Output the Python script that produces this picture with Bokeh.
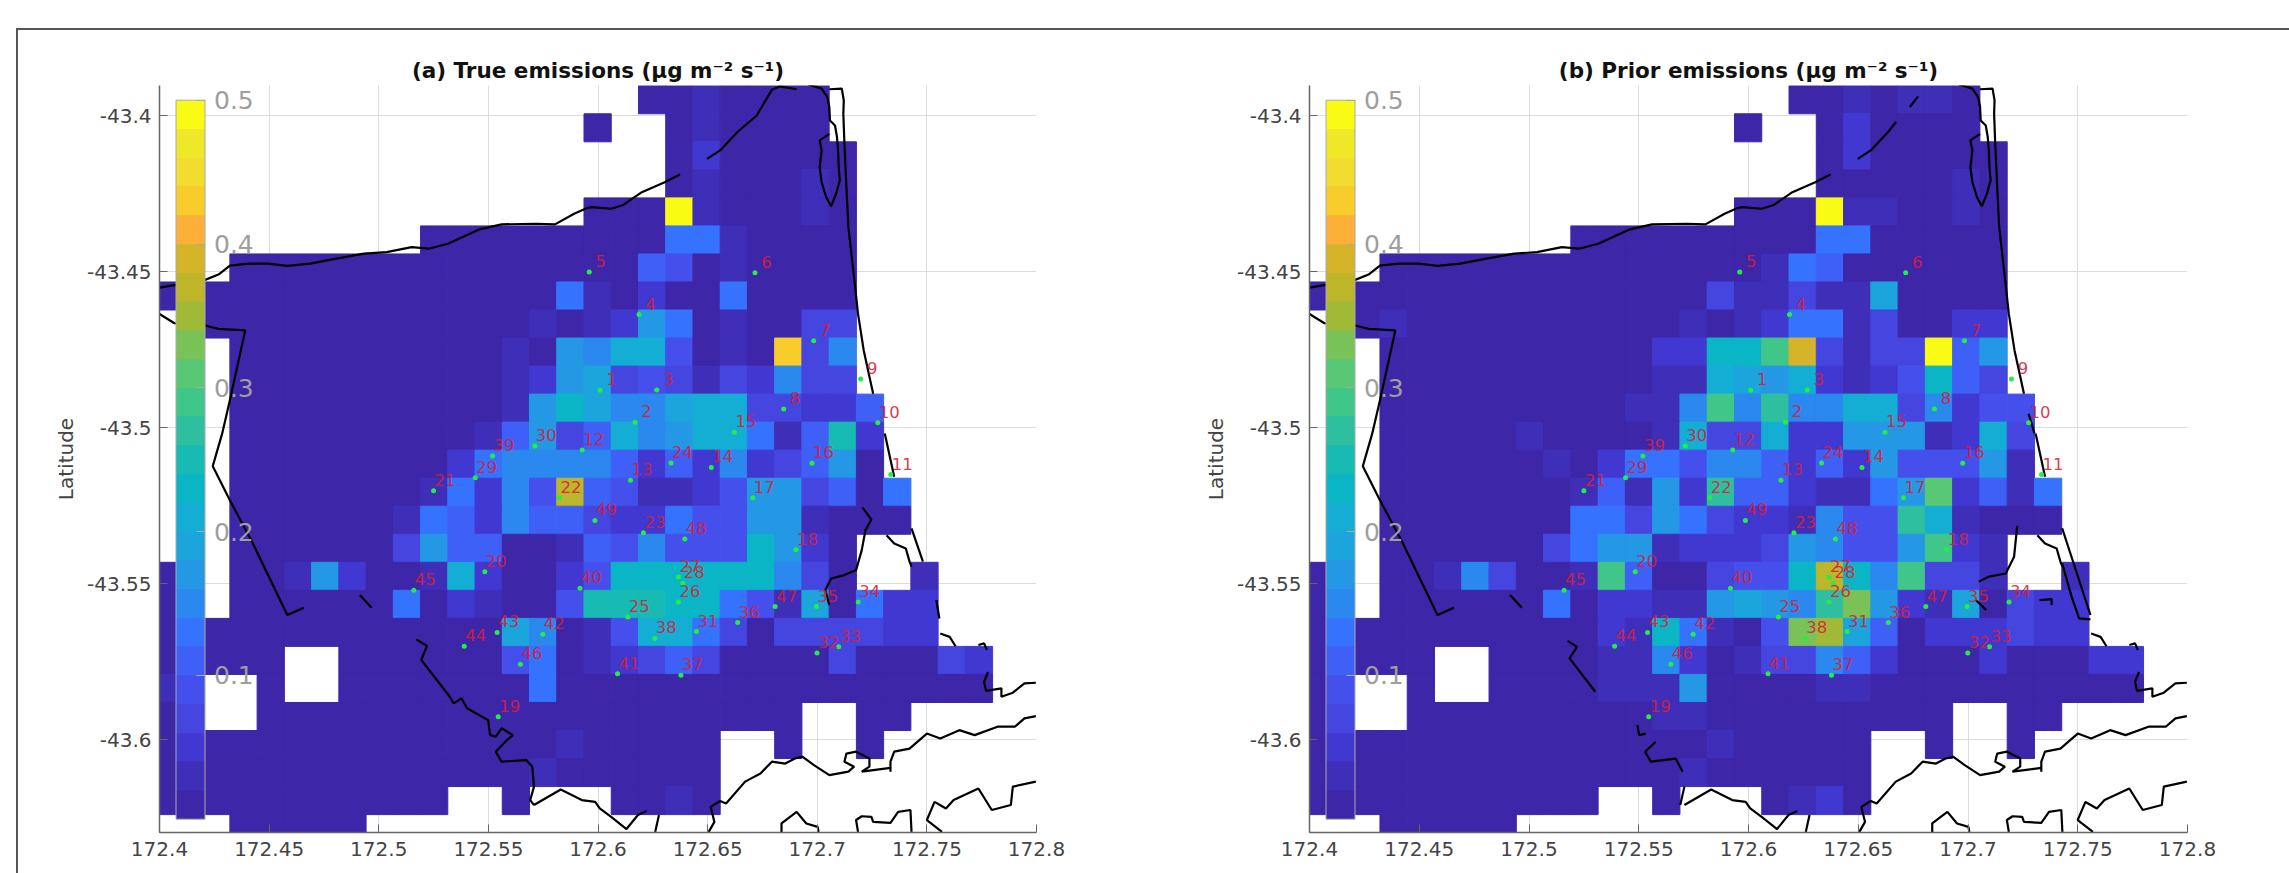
from bokeh.embed import file_html
from bokeh.resources import INLINE
from bokeh.plotting import figure
from bokeh.layouts import row
from bokeh.models import (ColumnDataSource, LinearColorMapper, ColorBar, FixedTicker, Label, Div)
from bokeh.transform import transform
from bokeh.core.properties import value

# ---- colour levels (0.02 wide steps, 0 to 0.5) -------------------------------------------
palette = ["#3E26A8", "#3F2EB8", "#4038D0", "#4545E0", "#4550EC", "#3F60F6", "#3573FF", "#2A88EE",
           "#2498E4", "#1CA4DC", "#14AED4", "#0AB6C6", "#18BAB4", "#2EBFA0", "#40C688", "#58C874",
           "#78C258", "#A0BA38", "#BDB52A", "#D6B42A", "#FCB038", "#F8CC2A", "#F2DC30", "#EEE828",
           "#F9FB15"]
N = None
a, b, c, d, e, f, g, G = .01, .03, .05, .07, .09, .11, .13, .15
h, i, j, k, l, m, n, o = .17, .19, .21, .23, .25, .27, .29, .31
q, r, s, t, v, y = .33, .35, .37, .39, .43, .49

# ---- (a) true emissions, one list per row of cells, north to south ------------------------
true_r00 = [N]*18 + [a, a, b, a, a, a, a] + [N]*6
true_r01 = [N]*16 + [a, N, N, a, b, a, a, a, a] + [N]*6
true_r02 = [N]*19 + [a, c] + [a]*5 + [N]*5
true_r03 = [N]*19 + [a, b, a, a, a, b, a] + [N]*5
true_r04 = [N]*16 + [a, a, a, y, b, a, a, a, b, a] + [N]*5
true_r05 = [N]*10 + [a]*9 + [g, g, b] + [a]*4 + [N]*5
true_r06 = [N]*3 + [a]*15 + [f, e, a, b] + [a]*4 + [N]*5
true_r07 = [a]*15 + [g, b, a, c, a, a, g] + [a]*4 + [N]*5
true_r08 = [N]*2 + [a]*12 + [b, a, b, c, h, g, a, b, a, a, d, d] + [N]*5
true_r09 = [N]*3 + [a]*10 + [b, a, h, G, j, j, e, a, b, a, v, d, G] + [N]*5
true_r10 = [N]*3 + [a]*10 + [b, c, h, i, d, e, d, b, d, c, G, d, d] + [N]*5
true_r11 = [N]*3 + [a]*10 + [b, h, k, i, G, G, i, j, j, d, d, c, c, f] + [N]*4
true_r12 = [N]*3 + [a]*9 + [b, f, h, d, f, j, G, h, j, j, g, b, f, l, c] + [N]*4
true_r13 = [N]*3 + [a]*8 + [c, g, G, G, G, G, f, c, f, c, G, c, d, f, h, a] + [N]*4
true_r14 = [N]*3 + [a]*7 + [b, g, c, G, e, s, f, e, b, b, c, e, h, h, d, f, a, g] + [N]*3
true_r15 = [N]*3 + [a]*6 + [b, g, f, c, G, f, f, d, c, c, g, e, e, h, h, b, a, a, a] + [N]*3
true_r16 = [N]*3 + [a]*6 + [d, h, f, f, a, a, b, f, e, G, e, e, e, k, h, c, a] + [N]*5
true_r17 = [a, a, N, a, a, b, h, c, a, a, b, j, c, a, a, c, e, k, k, k, k, k, k, G, d, a, N, N, b, N, N]
true_r18 = [a, a, N] + [a]*6 + [g, a, c, b, a, a, e, l, l, l, k, k, g, e, b, i, a, g, c, c, N, N]
true_r19 = [a]*13 + [i, G, a, b, e, j, j, g, d, a, d, d, d, d, c, c, N, N]
true_r20 = [a]*5 + [N, N] + [a]*6 + [e, g, a, b, c, d, f, d] + [a]*4 + [d, a, a, a, d, c]
true_r21 = [b, a, N, N, a, N, N] + [a]*7 + [g] + [a]*16
true_r22 = [a, a, N, N] + [a]*20 + [N, N, a, a, N, N, N]
true_r23 = [a]*15 + [b] + [a]*5 + [N, N, a, N, N, a] + [N]*4
true_r24 = [a]*14 + [b] + [a]*6 + [N]*10
true_r25 = [a]*11 + [N, N, a, N, N, N, a, a, b, a] + [N]*10
true_r26 = [N]*3 + [a]*5 + [N]*23

# ---- (b) prior emissions ------------------------------------------------------------------
prior_r00 = [N]*18 + [a, a, b, a, b, b, a] + [N]*6
prior_r01 = [N]*16 + [a, N, N, a, c, a, a, a, a] + [N]*6
prior_r02 = [N]*19 + [a, c] + [a]*5 + [N]*5
prior_r03 = [N]*19 + [a, a, a, a, a, b, a] + [N]*5
prior_r04 = [N]*16 + [a, a, a, y, b, b, a, a, b, a] + [N]*5
prior_r05 = [N]*10 + [a]*9 + [g, g] + [a]*5 + [N]*5
prior_r06 = [N]*3 + [a]*14 + [b, g, f] + [a]*6 + [N]*5
prior_r07 = [a]*15 + [d, b, b, d, b, b, i] + [a]*4 + [N]*5
prior_r08 = [N, N, a, b] + [a]*10 + [b, a, b, c, g, g, b, d, a, a, c, c] + [N]*5
prior_r09 = [N]*3 + [a]*10 + [c, c, k, k, n, t, d, b, d, d, y, f, h] + [N]*5
prior_r10 = [N]*3 + [a]*10 + [b, b, j, i, h, j, c, b, c, e, k, f, d] + [N]*5
prior_r11 = [N]*3 + [a]*9 + [b, b, G, n, G, m, G, G, j, j, d, G, c, e, e] + [N]*4
prior_r12 = [N]*3 + [a]*5 + [b] + [a]*4 + [b, j, d, d, j, c, c, h, h, h, b, c, j, d] + [N]*4
prior_r13 = [N]*3 + [a]*6 + [b, a, c, g, g, e, G, G, f, c, f, c, h, e, e, e, h, b] + [N]*4
prior_r14 = [N]*3 + [a]*7 + [b, f, b, h, c, m, f, f, c, b, b, g, h, o, c, f, b, g] + [N]*3
prior_r15 = [N]*3 + [a]*7 + [g, g, d, h, g, d, c, c, b, G, e, e, m, j, b, a, a, a] + [N]*3
prior_r16 = [N]*3 + [a]*6 + [d, g, h, h, b, c, c, c, d, h, G, e, e, h, n, c, b] + [N]*5
prior_r17 = [a, a, N, a, a, b, G, d, a, a, b, n, f, a, a, d, e, e, k, s, k, G, n, d, d, b, N, N, b, N, N]
prior_r18 = [a, a, N] + [a]*6 + [g, a, c, c, b, b, h, i, h, G, m, q, h, c, b, i, a, d, c, c, N, N]
prior_r19 = [a]*11 + [c, b, k, g, b, a, e, q, r, i, f, a, c, c, c, d, c, c, N, N]
prior_r20 = [a]*5 + [N, N] + [a]*4 + [b, b, G, c, a, b, d, d, G, f, c] + [a]*3 + [c, a, a, a, c, c]
prior_r21 = [a, a, N, N, a, N, N] + [a]*4 + [b, b, b, h] + [a]*4 + [b, b] + [a]*10
prior_r22 = [a, a, N, N] + [a]*9 + [b, b] + [a]*9 + [N, N, a, a, N, N, N]
prior_r23 = [a]*15 + [b] + [a]*5 + [N, N, a, N, N, a] + [N]*4
prior_r24 = [a]*14 + [b] + [a]*6 + [N]*10
prior_r25 = [a]*11 + [N, N, a, N, N, N, a, b, c, a] + [N]*10
prior_r26 = [N]*3 + [a]*5 + [N]*23

true_rows = [true_r00, true_r01, true_r02, true_r03, true_r04, true_r05, true_r06, true_r07, true_r08,
             true_r09, true_r10, true_r11, true_r12, true_r13, true_r14, true_r15, true_r16, true_r17,
             true_r18, true_r19, true_r20, true_r21, true_r22, true_r23, true_r24, true_r25, true_r26]
prior_rows = [prior_r00, prior_r01, prior_r02, prior_r03, prior_r04, prior_r05, prior_r06, prior_r07,
              prior_r08, prior_r09, prior_r10, prior_r11, prior_r12, prior_r13, prior_r14, prior_r15,
              prior_r16, prior_r17, prior_r18, prior_r19, prior_r20, prior_r21, prior_r22, prior_r23,
              prior_r24, prior_r25, prior_r26]

# cell grid (degrees)
grid_lon0, grid_dlon = 172.39483, 0.012424
grid_lat0, grid_dlat = -43.39038, 0.008984

# ---- stations -----------------------------------------------------------------------------
station_id = [str(num) for num in range(1, 50)]
station_lon = [172.6010, 172.6169, 172.6268, 172.6187, 172.5960, 172.6716, 172.6984, 172.6847, 172.7198, 172.7276,
               172.7335, 172.5928, 172.6148, 172.6517, 172.6622, 172.6976, 172.6706, 172.6903, 172.5545, 172.5484,
               172.5250, 172.5824, 172.6207, 172.6333, 172.6136, 172.6367, 172.6367, 172.6387, 172.5440, 172.5712,
               172.6449, 172.6999, 172.7098, 172.7187, 172.6996, 172.6637, 172.6378, 172.6259, 172.5519, 172.5918,
               172.6089, 172.5748, 172.5540, 172.5390, 172.5160, 172.5646, 172.6808, 172.6396, 172.5986]
station_lat = [-43.4880, -43.4982, -43.4879, -43.4637, -43.4501, -43.4503, -43.4721, -43.4940, -43.4844, -43.4984,
               -43.5150, -43.5071, -43.5168, -43.5127, -43.5014, -43.5114, -43.5224, -43.5391, -43.5926, -43.5461,
               -43.5202, -43.5224, -43.5336, -43.5113, -43.5606, -43.5558, -43.5478, -43.5498, -43.5160, -43.5058,
               -43.5653, -43.5722, -43.5702, -43.5558, -43.5573, -43.5624, -43.5793, -43.5675, -43.5090, -43.5514,
               -43.5788, -43.5662, -43.5656, -43.5700, -43.5521, -43.5758, -43.5573, -43.5356, -43.5297]

# ---- coastline pieces, (lon, lat) ---------------------------------------------------------
coast_north = ([172.4000, 172.4208, 172.4269, 172.4321, 172.4408, 172.4496, 172.4583, 172.4687, 172.4757, 172.4932,
                172.5036, 172.5150, 172.5228, 172.5316, 172.5455, 172.5560, 172.5717, 172.5804, 172.5891, 172.5953,
                172.5973, 172.6060, 172.6112, 172.6200, 172.6304, 172.6374],
               [-43.4551, -43.4526, -43.4509, -43.4480, -43.4474, -43.4474, -43.4481, -43.4474, -43.4464, -43.4442,
                -43.4437, -43.4421, -43.4426, -43.4410, -43.4365, -43.4348, -43.4346, -43.4348, -43.4314, -43.4295,
                -43.4293, -43.4298, -43.4287, -43.4245, -43.4213, -43.4188])
coast_lagoon = ([172.6959, 172.7020, 172.7046, 172.7055, 172.7058, 172.7081, 172.7090, 172.7095, 172.7098, 172.7103,
                 172.7086, 172.7063, 172.7041, 172.7020, 172.7011, 172.7020, 172.7011, 172.7055],
                [-43.3900, -43.3913, -43.3940, -43.3972, -43.4015, -43.4031, -43.4068, -43.4111, -43.4165, -43.4207,
                 -43.4250, -43.4290, -43.4261, -43.4213, -43.4165, -43.4111, -43.4079, -43.4058])
coast_east = ([172.7055, 172.7112, 172.7121, 172.7119, 172.7124, 172.7133, 172.7142, 172.7168, 172.7186, 172.7212, 172.7255],
              [-43.3915, -43.3913, -43.3951, -43.3994, -43.4090, -43.4229, -43.4357, -43.4517, -43.4635, -43.4752, -43.4891])
coast_east2 = ([172.7308, 172.7351], [-43.5018, -43.5157])
coast_est_n = ([172.7316, 172.7351, 172.7404, 172.7421, 172.7430], [-43.5344, -43.5371, -43.5387, -43.5429, -43.5445])
coast_tail = ([172.7561, 172.7604, 172.7631], [-43.5659, -43.5670, -43.5700])
coast_tail2 = ([172.7735, 172.7761, 172.7774], [-43.5696, -43.5691, -43.5712])
coast_tail3 = ([172.7779, 172.7761, 172.7770, 172.7840, 172.7840, 172.7892, 172.7945, 172.7997],
               [-43.5782, -43.5814, -43.5843, -43.5835, -43.5862, -43.5849, -43.5819, -43.5817])
border_west = ([172.4000, 172.4068, 172.4208, 172.4269, 172.4391, 172.4321, 172.4286, 172.4243, 172.4321, 172.4426, 172.4583, 172.4658],
               [-43.4635, -43.4665, -43.4672, -43.4683, -43.4688, -43.4912, -43.5018, -43.5123, -43.5232, -43.5371, -43.5600, -43.5577])
border_dash = ([172.4914, 172.4967], [-43.5536, -43.5577])
river_k = ([172.5708, 172.5830, 172.5926, 172.5987, 172.6008, 172.6060, 172.6130, 172.6182, 172.6222],
           [-43.6209, -43.6159, -43.6193, -43.6199, -43.6220, -43.6247, -43.6286, -43.6241, -43.6228])
river_l = ([172.6278, 172.6261], [-43.6241, -43.6295])
river_m = ([172.6505, 172.6531, 172.6514, 172.6557, 172.6584, 172.6671, 172.6741, 172.6793, 172.6854, 172.6898, 172.6932,
            172.6985, 172.7055, 172.7142, 172.7168, 172.7124, 172.7133, 172.7177, 172.7238, 172.7238, 172.7203, 172.7334],
           [-43.6295, -43.6263, -43.6215, -43.6196, -43.6204, -43.6134, -43.6108, -43.6070, -43.6076, -43.6060, -43.6054,
            -43.6081, -43.6113, -43.6102, -43.6086, -43.6070, -43.6044, -43.6038, -43.6060, -43.6086, -43.6102, -43.6090])
river_n = ([172.7334, 172.7334, 172.7351, 172.7421, 172.7500, 172.7561, 172.7648, 172.7718, 172.7822, 172.7901, 172.7945, 172.7997],
           [-43.6102, -43.6070, -43.6038, -43.6028, -43.5980, -43.5996, -43.5969, -43.5985, -43.5958, -43.5958, -43.5931, -43.5924])
river_o = ([172.6837, 172.6837, 172.6906, 172.6950, 172.7002, 172.7006], [-43.6295, -43.6268, -43.6231, -43.6268, -43.6279, -43.6295])
river_p = ([172.7186, 172.7177, 172.7203, 172.7247, 172.7255, 172.7334, 172.7369, 172.7425, 172.7430],
           [-43.6295, -43.6257, -43.6245, -43.6247, -43.6263, -43.6266, -43.6231, -43.6225, -43.6295])
river_q = ([172.7569, 172.7500, 172.7535, 172.7587, 172.7622, 172.7735, 172.7796, 172.7883, 172.7892, 172.7997],
           [-43.6295, -43.6257, -43.6199, -43.6220, -43.6193, -43.6156, -43.6225, -43.6209, -43.6150, -43.6134])

# pieces that are only whole in panel (a)
a_inlet = ([172.6498, 172.6557, 172.6636, 172.6723, 172.6793, 172.6828, 172.6906],
           [-43.4138, -43.4111, -43.4052, -43.4000, -43.3917, -43.3906, -43.3915])
a_spit = ([172.7430, 172.7482], [-43.5322, -43.5429])
a_spit2 = ([172.7543, 172.7557], [-43.5552, -43.5611])
a_estuary = ([172.7206, 172.7247, 172.7220, 172.7203, 172.7177, 172.7124, 172.7063, 172.7037, 172.7055],
             [-43.5255, -43.5294, -43.5328, -43.5392, -43.5456, -43.5472, -43.5483, -43.5520, -43.5568])
a_river = ([172.5171, 172.5220, 172.5194, 172.5324, 172.5342, 172.5377, 172.5403, 172.5499, 172.5508, 172.5534, 172.5560,
            172.5612, 172.5577, 172.5534, 172.5560, 172.5673, 172.5700, 172.5708, 172.5691, 172.5708],
           [-43.5678, -43.5699, -43.5744, -43.5862, -43.5883, -43.5867, -43.5899, -43.5937, -43.5985, -43.5990, -43.5963,
            -43.5985, -43.6006, -43.6038, -43.6070, -43.6065, -43.6086, -43.6150, -43.6193, -43.6209])

# pieces of the same lines as panel (b) shows them
b_inlet1 = ([172.6498, 172.6557, 172.6636, 172.6672], [-43.4138, -43.4111, -43.4052, -43.4020])
b_inlet2 = ([172.6735, 172.6773], [-43.3972, -43.3938])
b_spit = ([172.7429, 172.7558], [-43.5322, -43.5600])
b_lagoon = ([172.7429, 172.7472, 172.7506, 172.7558], [-43.5435, -43.5541, -43.5611, -43.5614])
b_estuary1 = ([172.7224, 172.7210, 172.7172, 172.7095, 172.7049], [-43.5315, -43.5413, -43.5467, -43.5477, -43.5493])
b_estuary2 = ([172.7035, 172.7083], [-43.5552, -43.5584])
b_hook = ([172.7326, 172.7381, 172.7381], [-43.5552, -43.5549, -43.5568])
b_ten = ([172.7276, 172.7303], [-43.4955, -43.5018])
b_river1 = ([172.5176, 172.5218, 172.5185, 172.5302], [-43.5683, -43.5702, -43.5739, -43.5846])
b_river2 = ([172.5494, 172.5502, 172.5532], [-43.5953, -43.5985, -43.5980])
b_river3 = ([172.5577, 172.5529, 172.5555, 172.5668, 172.5700], [-43.6006, -43.6038, -43.6070, -43.6060, -43.6102])
b_river4 = ([172.5708, 172.5689], [-43.6150, -43.6209])

common_lines = [coast_north, coast_lagoon, coast_east, coast_east2, coast_est_n, coast_tail, coast_tail2, coast_tail3,
                border_west, border_dash, river_k, river_l, river_m, river_n, river_o, river_p, river_q]
panel_a_lines = common_lines + [a_inlet, a_spit, a_spit2, a_estuary, a_river]
panel_b_lines = common_lines + [b_inlet1, b_inlet2, b_spit, b_lagoon, b_estuary1, b_estuary2, b_hook, b_ten,
                                b_river1, b_river2, b_river3, b_river4]

# ---- axes ---------------------------------------------------------------------------------
x_ticks = [172.4, 172.45, 172.5, 172.55, 172.6, 172.65, 172.7, 172.75, 172.8]
x_tick_labels = ["172.4", "172.45", "172.5", "172.55", "172.6", "172.65", "172.7", "172.75", "172.8"]
y_ticks = [-43.4, -43.45, -43.5, -43.55, -43.6]
y_tick_labels = ["-43.4", "-43.45", "-43.5", "-43.55", "-43.6"]
cbar_ticks = [0.1, 0.2, 0.3, 0.4, 0.5]
title_a = "(a) True emissions (\u03bcg m\u207b\u00b2 s\u207b\u00b9)"
title_b = "(b) Prior emissions (\u03bcg m\u207b\u00b2 s\u207b\u00b9)"

FONT = "DejaVu Sans"
mapper = LinearColorMapper(palette=palette, low=0, high=0.5)


def panel(rows, lines, title, width, left, right):
    fig = figure(width=width, height=873, output_backend="svg", toolbar_location=None,
                 x_range=(172.4, 172.8), y_range=(-43.6297, -43.3903),
                 min_border_left=left, min_border_right=right, min_border_top=85, min_border_bottom=41,
                 outline_line_color=None, background_fill_color="white", border_fill_color="white")
    x0, x1, y0, y1, vals = [], [], [], [], []
    for ri, cells in enumerate(rows):
        for ci, val in enumerate(cells):
            if val is None:
                continue
            x0.append(grid_lon0 + ci * grid_dlon)
            x1.append(grid_lon0 + (ci + 1) * grid_dlon)
            y1.append(grid_lat0 - ri * grid_dlat)
            y0.append(grid_lat0 - (ri + 1) * grid_dlat)
            vals.append(val)
    src = ColumnDataSource(dict(left=x0, right=x1, bottom=y0, top=y1, val=vals))
    fig.quad(left="left", right="right", bottom="bottom", top="top", source=src,
             fill_color=transform("val", mapper), line_color=transform("val", mapper), line_width=1)
    for lons, lats in lines:
        fig.line(lons, lats, line_color="black", line_width=2.2)
    st = ColumnDataSource(dict(lon=station_lon, lat=station_lat, name=station_id))
    fig.scatter("lon", "lat", source=st, size=5, fill_color="#22F040", line_color=None)
    fig.text("lon", "lat", text="name", source=st, text_color="#D81E3C", text_alpha=0.9,
             text_font=value(FONT), text_font_size="16.5px", text_align="center", text_baseline="middle",
             x_offset=11.5, y_offset=-11)

    fig.title.text = title
    fig.title.align = "center"
    fig.title.text_font = FONT
    fig.title.text_font_size = "21.5px"
    fig.title.text_font_style = "bold"
    fig.title.text_color = "#111111"
    fig.title.standoff = 5

    fig.xgrid.ticker = FixedTicker(ticks=x_ticks)
    fig.ygrid.ticker = FixedTicker(ticks=y_ticks)
    fig.grid.grid_line_color = "#DCDCDC"
    fig.xaxis.ticker = FixedTicker(ticks=x_ticks)
    fig.yaxis.ticker = FixedTicker(ticks=y_ticks)
    fig.xaxis.major_label_overrides = dict(zip(x_ticks, x_tick_labels))
    fig.yaxis.major_label_overrides = dict(zip(y_ticks, y_tick_labels))
    for ax in (fig.xaxis, fig.yaxis):
        ax.axis_line_color = "#666666"
        ax.axis_line_width = 1.5
        ax.major_tick_line_color = "#666666"
        ax.major_tick_in = 8
        ax.major_tick_out = 0
        ax.minor_tick_line_color = None
        ax.major_label_text_font = FONT
        ax.major_label_text_font_size = "20px"
        ax.major_label_text_color = "#444444"
    fig.xaxis.major_label_standoff = 9
    fig.yaxis.major_label_standoff = 8
    fig.yaxis.axis_label = "Latitude"
    fig.yaxis.axis_label_text_font = FONT
    fig.yaxis.axis_label_text_font_size = "20px"
    fig.yaxis.axis_label_text_font_style = "normal"
    fig.yaxis.axis_label_text_color = "#444444"
    fig.yaxis.axis_label_standoff = 6

    cb = ColorBar(color_mapper=mapper, ticker=FixedTicker(ticks=cbar_ticks), location=(16.5, 13.3),
                  width=29, height=719, padding=0, label_standoff=9,
                  background_fill_alpha=0, bar_line_color="#AAAAAA", bar_line_width=1,
                  major_tick_line_color="#AAAAAA", major_tick_in=9, major_tick_out=0,
                  minor_tick_line_color=None,
                  major_label_text_font=FONT, major_label_text_font_size="25px",
                  major_label_text_color="#9E9E9E")
    fig.add_layout(cb, "center")

    fig.add_layout(Label(x=172.6, y=-53, y_units="screen", text="Longitude", text_font=FONT,
                         text_font_size="20px", text_color="#444444", text_align="center",
                         text_baseline="alphabetic"))
    return fig


pa = panel(true_rows, panel_a_lines, title_a, 1145, 159, 109)
pb = panel(prior_rows, panel_b_lines, title_b, 1144, 164, 102)

# outer frame of the picture: left and top rules only, the other sides run off the page
frame_rule = Div(text="", width=2277, height=849,
                 styles={"position": "absolute", "left": "11px", "top": "23px",
                         "border-left": "2px solid #555555", "border-top": "2px solid #555555",
                         "pointer-events": "none", "box-sizing": "border-box"})

layout = row(pa, pb, frame_rule)
open("out.html", "w").write(file_html(layout, INLINE))
